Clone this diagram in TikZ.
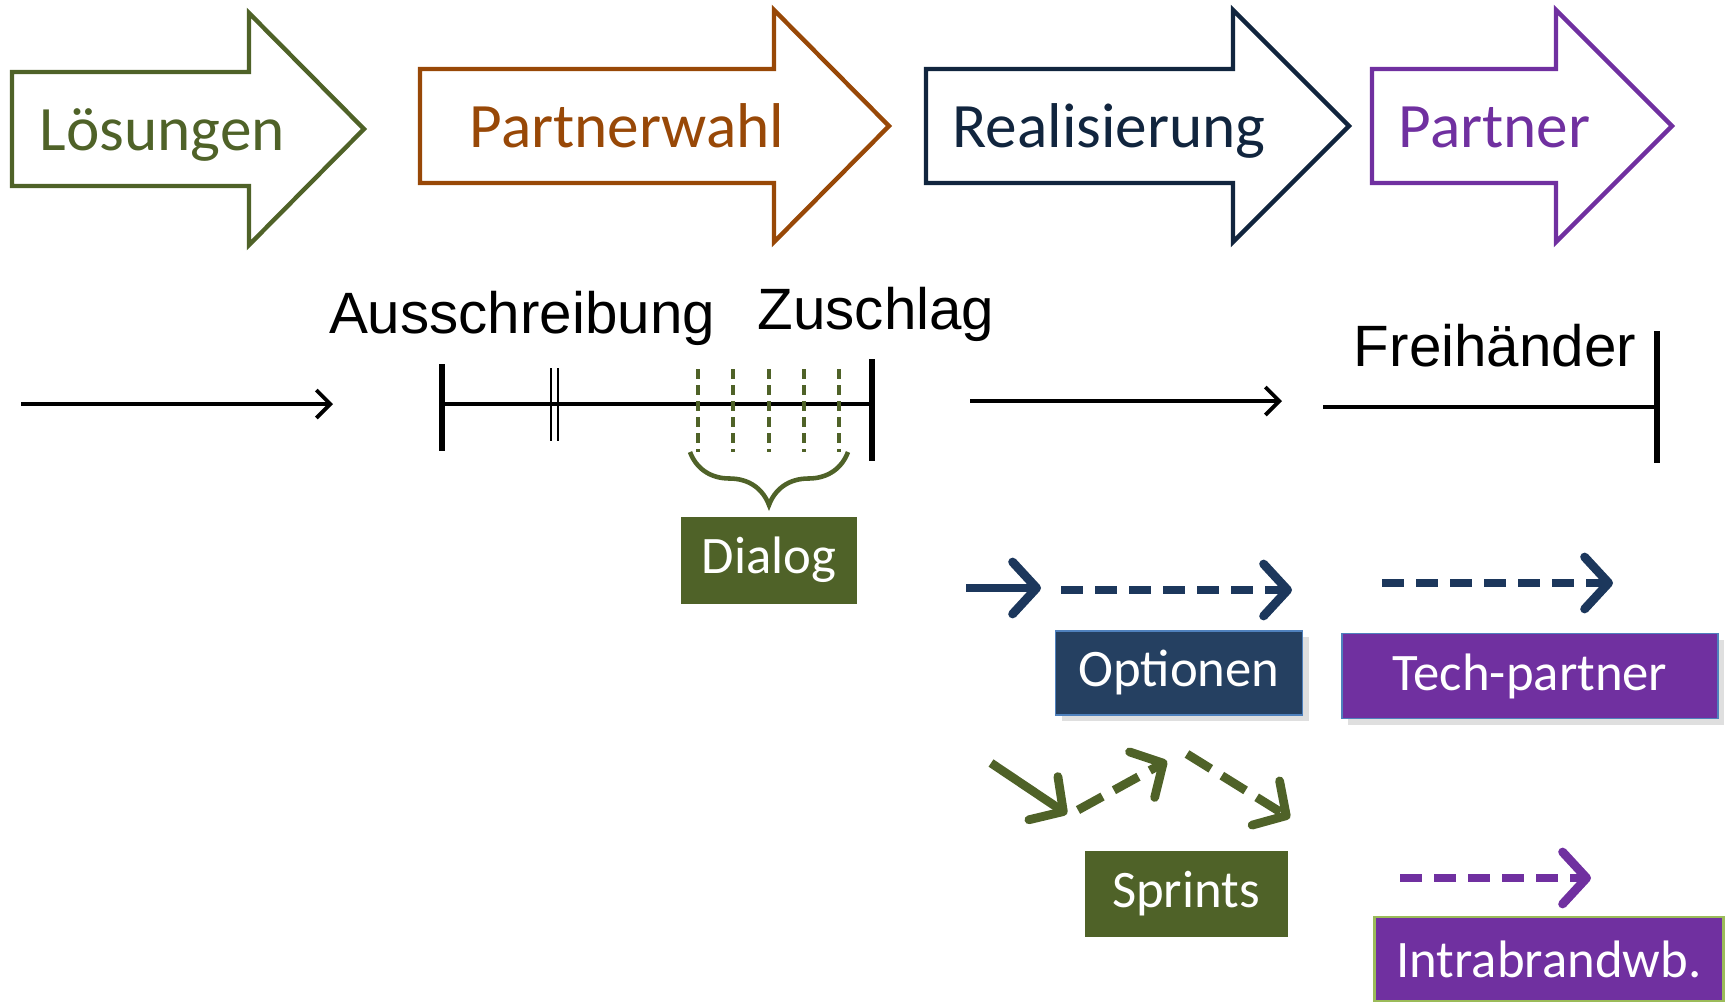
\documentclass[tikz,border=0pt]{standalone}
\usepackage{fontspec}
\setmainfont{Carlito}
\newfontfamily\arialfont{Liberation Sans}
\usetikzlibrary{arrows.meta,positioning,shadows,decorations.pathreplacing}
\definecolor{moss}{RGB}{79,98,40}
\definecolor{rust}{RGB}{152,72,7}
\definecolor{nightblue}{RGB}{17,37,62}
\definecolor{steel}{RGB}{28,55,92}
\definecolor{slate}{RGB}{37,64,97}
\definecolor{plum}{RGB}{112,48,160}
\definecolor{skyrim}{RGB}{79,129,189}
\definecolor{limerim}{RGB}{155,187,89}
\tikzset{
  phasearrow/.style={draw=#1,line width=1.25pt,line join=miter},
  phasetext/.style={font=\fontsize{18}{20}\selectfont,text=#1,anchor=base west,inner sep=0pt},
  milestone/.style={font=\arialfont\fontsize{16.6}{19}\selectfont,anchor=base,inner sep=0pt},
  tline/.style={line width=1.1pt,-{Straight Barb[length=1.4mm,width=2.8mm]}},
  tbar/.style={line width=1.8pt},
  tick/.style={line width=0.5pt},
  dialogtick/.style={draw=moss,line width=0.9pt,dash pattern=on 1mm off 0.6mm},
  tagbox/.style={fill=#1,text=white,inner sep=0pt,font=\fontsize{15}{17}\selectfont},
  tagbox/.default=moss,
  rimbox/.style={tagbox=#1,draw=skyrim,line width=0.5pt,
    drop shadow={opacity=0.25,shadow xshift=0.6mm,shadow yshift=-0.6mm}},
  move/.style={draw=#1,line width=2.5pt,-{Straight Barb[length=2.4mm,width=5.2mm,round]}},
  move/.default=steel,
  dashmove/.style={move=#1,dash pattern=on 2.2mm off 1.2mm},
  dashmove/.default=steel,
}
\begin{document}
\begin{tikzpicture}[x=0.1mm,y=-0.1mm]
\useasboundingbox (0,0) rectangle (1729,1003);
% phase arrows
\foreach \nm/\col/\l/\n/\t/\y/\tx/\txt in {loes/moss/12/249/364/129/39/Lösungen,
    wahl/rust/420/774/889/126/469/Partnerwahl,
    real/nightblue/926/1233/1349/126/952/Realisierung,
    partner/plum/1372/1556/1672/126/1398/Partner}{
  \draw[phasearrow=\col] (\l,\y-57) -- (\n,\y-57) -- (\n,\y-116) -- (\t,\y)
    -- (\n,\y+116) -- (\n,\y+57) -- (\l,\y+57) -- cycle;
  \node[phasetext=\col] (\nm) at (\tx,\y+21) {\txt};
}
% time line
\node[milestone] (aus) at (522,333) {Ausschreibung};
\node[milestone] (zu) at (876,329) {Zuschlag};
\node[milestone] (frei) at (1495,366) {Freihänder};
\coordinate (s1) at (21,404);  \coordinate (e1) at (333,404);
\coordinate (ausL) at (442,404); \coordinate (zuR) at (872,404);
\coordinate (s2) at (970,401); \coordinate (e2) at (1282,401);
\coordinate (freiL) at (1323,407); \coordinate (freiR) at (1657,407);
\draw[tline] (s1) -- (e1);
\draw[tline] (s2) -- (e2);
\draw[line width=1.1pt] (ausL) -- (zuR);
\draw[line width=1.1pt] (freiL) -- (freiR);
\draw[tbar] (ausL) ++(0,-40) -- ++(0,87);
\draw[tbar] (zuR) ++(0,-45) -- ++(0,102);
\draw[tbar] (freiR) ++(0,-76) -- ++(0,132);
\draw[tick] (551,368) -- (551,441) (558,368) -- (558,441);
\foreach \x in {698,733,769,804,839} \draw[dialogtick] (\x,369) -- (\x,452);
% dialog
\coordinate (brl) at (690,452); \coordinate (brr) at (848,452);
\coordinate (brtip) at (769,505);
\draw[moss,line width=1.3pt,decorate,decoration={brace,mirror,amplitude=5.3mm,aspect=0.5}] (brl) -- (brr);
\node[tagbox=moss,minimum width=17.6mm,minimum height=8.7mm,below=1.1mm of brtip] (dialog) {Dialog};
% options
\node[rimbox=slate,minimum width=24.7mm,minimum height=8.4mm] (opt) at (1179,673) {Optionen};
\node[rimbox=plum,minimum width=37.6mm,minimum height=8.5mm] (tech) at (1530,676) {Tech-partner};
\node[tagbox=moss,minimum width=20.3mm,minimum height=8.6mm] (sprint) at (1186,894) {Sprints};
\node[tagbox=plum,draw=limerim,line width=0.6pt,minimum width=34.9mm,minimum height=8.4mm] (intra) at (1549,959) {Intrabrandwb.};
\coordinate (o1) at (966,588);  \coordinate (o2) at (1041,588);
\coordinate (o3) at (1061,590); \coordinate (o4) at (1292,590);
\coordinate (t1) at (1382,583); \coordinate (t2) at (1613,583);
\coordinate (g1) at (991,763);  \coordinate (g2) at (1067,814);
\coordinate (g3) at (1078,810); \coordinate (g4) at (1167,761);
\coordinate (g5) at (1187,754); \coordinate (g6) at (1290,818);
\coordinate (i1) at (1400,878); \coordinate (i2) at (1591,878);
\draw[move] (o1) -- (o2);
\draw[dashmove] (o3) -- (o4);
\draw[dashmove] (t1) -- (t2);
\draw[move=moss] (g1) -- (g2);
\draw[dashmove=moss,dash pattern=on 2.8mm off 1.3mm] (g3) -- (g4);
\draw[dashmove=moss,dash pattern=on 2.8mm off 1.3mm] (g5) -- (g6);
\draw[dashmove=plum] (i1) -- (i2);
\end{tikzpicture}
\end{document}
